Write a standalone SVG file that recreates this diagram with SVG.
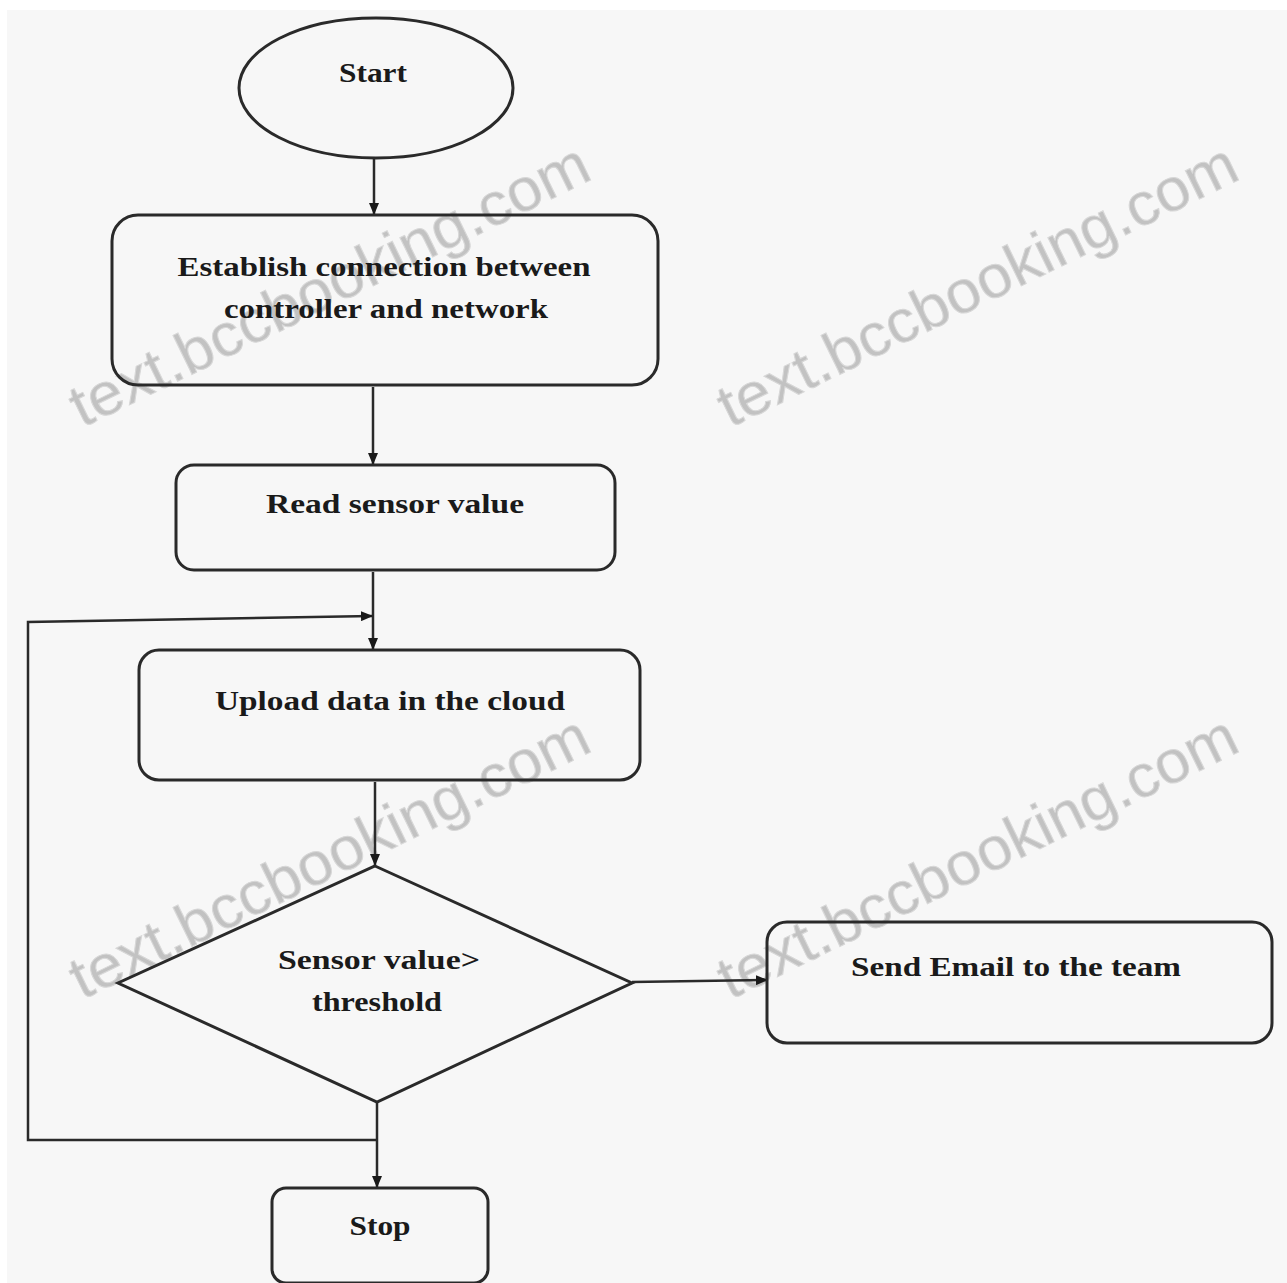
<svg xmlns="http://www.w3.org/2000/svg" width="1287" height="1283" viewBox="0 0 1287 1283">
<defs>
<style>
.shape{fill:none;stroke:#2a2a2a;stroke-width:3}
.lbl{font-family:"Liberation Serif","Times New Roman",serif;font-weight:bold;font-size:28px;fill:#1a1a1a;text-anchor:middle}
.conn{fill:none;stroke:#2a2a2a;stroke-width:2.5}
.wm{font-family:"Liberation Sans",Arial,sans-serif;font-size:60px;fill:#c2c2c2;stroke:#d8d8d8;stroke-width:1}
</style>
<marker id="arr" viewBox="0 0 12 10" refX="11" refY="5" markerWidth="12" markerHeight="10" markerUnits="userSpaceOnUse" orient="auto">
<path d="M0,0 L12,5 L0,10 z" fill="#1a1a1a"/>
</marker>
</defs>
<rect x="0" y="0" width="1287" height="1283" fill="#ffffff"/>
<rect x="7" y="10" width="1280" height="1273" fill="#f7f7f7"/>

<g id="watermarks">
<text class="wm" transform="translate(82,428) rotate(-26)" textLength="570" lengthAdjust="spacingAndGlyphs">text.bccbooking.com</text>
<text class="wm" transform="translate(730,428) rotate(-26)" textLength="570" lengthAdjust="spacingAndGlyphs">text.bccbooking.com</text>
<text class="wm" transform="translate(82,1000) rotate(-26)" textLength="570" lengthAdjust="spacingAndGlyphs">text.bccbooking.com</text>
<text class="wm" transform="translate(730,1000) rotate(-26)" textLength="570" lengthAdjust="spacingAndGlyphs">text.bccbooking.com</text>
</g>

<g id="connectors">
<line class="conn" x1="374" y1="158" x2="374" y2="214" marker-end="url(#arr)"/>
<line class="conn" x1="373" y1="387" x2="373" y2="464" marker-end="url(#arr)"/>
<line class="conn" x1="373" y1="572" x2="373" y2="649" marker-end="url(#arr)"/>
<polyline class="conn" points="377,1140 28,1140 28,622 372,616" marker-end="url(#arr)"/>
<line class="conn" x1="375" y1="782" x2="375" y2="865" marker-end="url(#arr)"/>
<line class="conn" x1="632" y1="982" x2="767" y2="980" marker-end="url(#arr)"/>
<line class="conn" x1="377" y1="1102" x2="377" y2="1187" marker-end="url(#arr)"/>
</g>

<g id="start">
<ellipse class="shape" cx="376" cy="88" rx="137" ry="70"/>
<text class="lbl" x="373" y="82" textLength="68" lengthAdjust="spacingAndGlyphs">Start</text>
</g>

<g id="establish">
<rect class="shape" x="112" y="215" width="546" height="170" rx="26"/>
<text class="lbl" x="384" y="276" textLength="413" lengthAdjust="spacingAndGlyphs">Establish connection between</text>
<text class="lbl" x="386" y="318" textLength="324" lengthAdjust="spacingAndGlyphs">controller and network</text>
</g>

<g id="read">
<rect class="shape" x="176" y="465" width="439" height="105" rx="18"/>
<text class="lbl" x="395" y="513" textLength="258" lengthAdjust="spacingAndGlyphs">Read sensor value</text>
</g>

<g id="upload">
<rect class="shape" x="139" y="650" width="501" height="130" rx="20"/>
<text class="lbl" x="390" y="710" textLength="350" lengthAdjust="spacingAndGlyphs">Upload data in the cloud</text>
</g>

<g id="decision">
<polygon class="shape" points="375,866 632,983 377,1102 118,983"/>
<text class="lbl" x="379" y="969" textLength="202" lengthAdjust="spacingAndGlyphs">Sensor value&gt;</text>
<text class="lbl" x="377" y="1011" textLength="130" lengthAdjust="spacingAndGlyphs">threshold</text>
</g>

<g id="email">
<rect class="shape" x="767" y="922" width="505" height="121" rx="20"/>
<text class="lbl" x="1016" y="976" textLength="330" lengthAdjust="spacingAndGlyphs">Send Email to the team</text>
</g>

<g id="stop">
<rect class="shape" x="272" y="1188" width="216" height="95" rx="14"/>
<text class="lbl" x="380" y="1235" textLength="61" lengthAdjust="spacingAndGlyphs">Stop</text>
</g>
</svg>
